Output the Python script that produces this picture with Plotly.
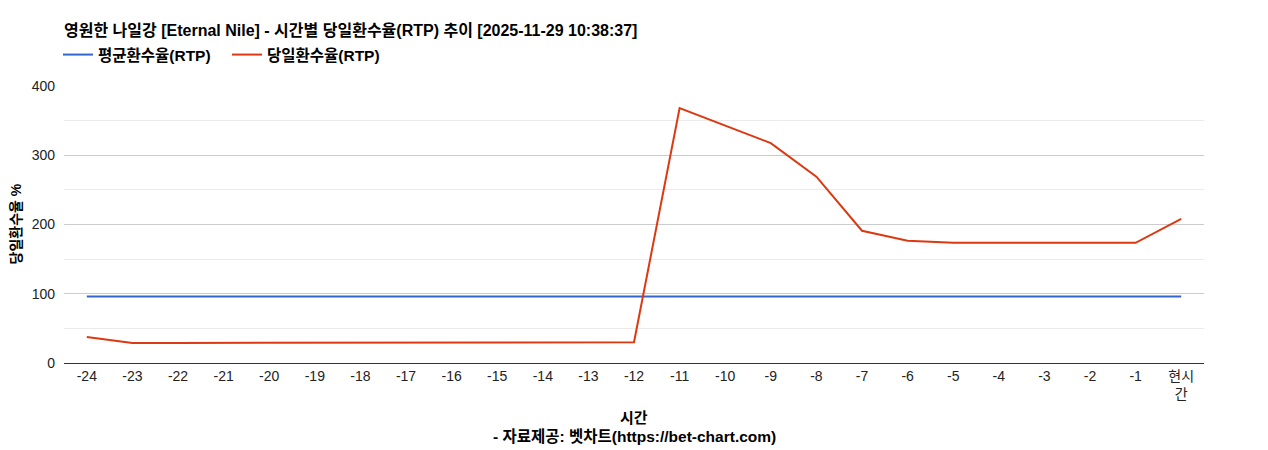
import plotly.graph_objects as go

TITLE = "영원한 나일강 [Eternal Nile] - 시간별 당일환수율(RTP) 추이 [2025-11-29 10:38:37]"
HOURS = ["-24", "-23", "-22", "-21", "-20", "-19", "-18", "-17", "-16", "-15", "-14", "-13",
         "-12", "-11", "-10", "-9", "-8", "-7", "-6", "-5", "-4", "-3", "-2", "-1", "현시<br>간"]
AVG_RTP = [96] * 25
DAY_RTP = [37.5, 29, 29, 29, 29, 29, 29, 29, 30, 30, 30, 30,
           30, 368, 343, 317.5, 269, 191, 176.5, 173.5, 173.5, 173.5, 173.5, 173.5, 208]

FONT = "Liberation Sans, Arial, Noto Sans CJK KR, sans-serif"
W, H = 1260, 442  # page body adds an 8px offset

fig = go.Figure()
fig.add_trace(go.Scatter(x=HOURS, y=AVG_RTP, mode="lines", name="<b>평균환수율(RTP)</b>",
                         line={"color": "#3366cc", "width": 2}))
fig.add_trace(go.Scatter(x=HOURS, y=DAY_RTP, mode="lines", name="<b>당일환수율(RTP)</b>",
                         line={"color": "#dc3912", "width": 2}))

fig.update_layout(
    width=W, height=H,
    margin={"l": 56, "r": 64, "t": 78, "b": 87, "autoexpand": False},
    paper_bgcolor="white", plot_bgcolor="white",
    font={"family": FONT, "size": 14, "color": "#222"},
    title={"text": "<b>" + TITLE + "</b>", "x": 56 / W, "xanchor": "left",
           "xref": "container", "yref": "container", "y": 1 - 22 / H, "yanchor": "middle",
           "pad": {"l": 0, "r": 0, "t": 0, "b": 0},
           "font": {"size": 16, "color": "#000"}},
    showlegend=True,
    legend={"orientation": "h", "x": 50 / W, "xref": "container", "xanchor": "left",
            "yref": "container", "y": 1 - 47 / H, "yanchor": "middle",
            "font": {"size": 15.5, "color": "#000"}, "itemwidth": 30,
            "entrywidth": 124, "entrywidthmode": "pixels",
            "bgcolor": "rgba(0,0,0,0)"},
    xaxis={"type": "category", "range": [-0.5, 24.5], "showgrid": False,
           "showline": True, "linecolor": "#333", "linewidth": 1,
           "ticks": "", "tickfont": {"size": 14, "color": "#222"}, "automargin": False},
    yaxis={"range": [0, 400], "dtick": 100, "showgrid": True, "gridcolor": "#cccccc",
           "zeroline": False, "tickfont": {"size": 14, "color": "#222"}, "automargin": False,
           "ticklabelstandoff": 8,
           "minor": {"dtick": 50, "showgrid": True, "gridcolor": "#ebebeb"}},
    annotations=[
        {"text": "<b>당일환수율 %</b>", "textangle": -90, "xref": "paper", "yref": "paper",
         "x": 0, "y": 0.5, "xanchor": "center", "yanchor": "middle", "xshift": -49,
         "showarrow": False, "font": {"size": 14, "color": "#000"}},
        {"text": "<b>시간</b>", "xref": "paper", "yref": "paper", "x": 0.5, "y": 0,
         "xanchor": "center", "yanchor": "middle", "yshift": -54,
         "showarrow": False, "font": {"size": 15, "color": "#000"}},
        {"text": "<b>- 자료제공: 벳차트(https://bet-chart.com)</b>", "xref": "paper", "yref": "paper",
         "x": 0.5, "y": 0, "xanchor": "center", "yanchor": "middle", "yshift": -73,
         "showarrow": False, "font": {"size": 15.5, "color": "#000"}},
    ],
)

fig.write_html("out.html")
